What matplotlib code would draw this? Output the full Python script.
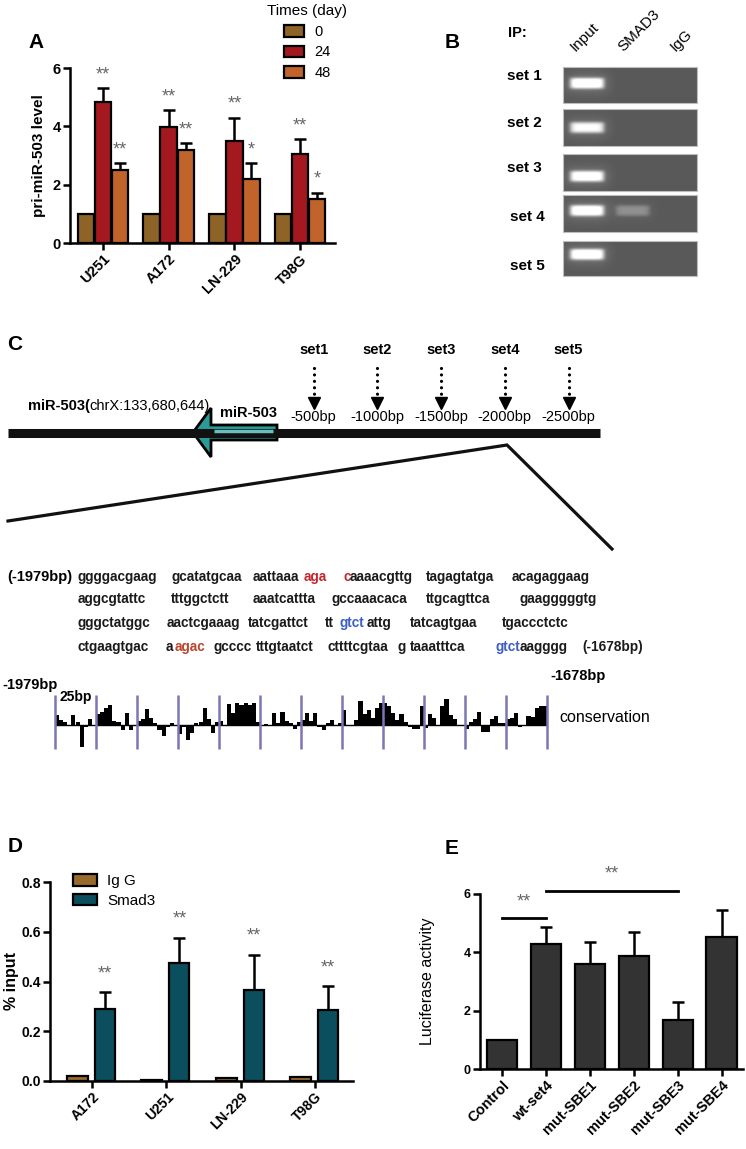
import numpy as np
import matplotlib.pyplot as plt
from matplotlib.patches import Polygon

plt.rcParams['font.family'] = ['Liberation Sans', 'DejaVu Sans']

W, H = 746, 1149

# ---- A: pri-miR-503 time course
cells_a = ['U251', 'A172', 'LN-229', 'T98G']
days = ['0', '24', '48']
pri_mir = [[1, 1, 1, 1],
           [4.85, 3.97, 3.5, 3.05],
           [2.5, 3.2, 2.2, 1.5]]
pri_err = [[0, 0, 0, 0],
           [0.47, 0.58, 0.8, 0.52],
           [0.25, 0.22, 0.55, 0.23]]
pri_sig = [['', '', '', ''],
           ['**', '**', '**', '**'],
           ['**', '**', '*', '*']]

# ---- B: ChIP gel
gel_sets = ['set 1', 'set 2', 'set 3', 'set 4', 'set 5']
gel_lanes = ['Input', 'SMAD3', 'IgG']
band = [[1.0, 0, 0],
        [0.85, 0, 0],
        [0.95, 0, 0],
        [1.0, 0.28, 0],
        [1.0, 0, 0]]

# ---- C: promoter map
set_names = ['set1', 'set2', 'set3', 'set4', 'set5']
set_bp = [-500, -1000, -1500, -2000, -2500]
seq_rows = [
    [('ggggacgaag', 'k'), ('gcatatgcaa', 'k'), ('aattaaa', 'k'), ('aga', 'r'), ('c', 'r'),
     ('aaaacgttg', 'k'), ('tagagtatga', 'k'), ('acagaggaag', 'k')],
    [('aggcgtattc', 'k'), ('tttggctctt', 'k'), ('aaatcattta', 'k'), ('gccaaacaca', 'k'),
     ('ttgcagttca', 'k'), ('gaagggggtg', 'k')],
    [('gggctatggc', 'k'), ('aactcgaaag', 'k'), ('tatcgattct', 'k'), ('tt', 'k'), ('gtct', 'b'),
     ('attg', 'k'), ('tatcagtgaa', 'k'), ('tgaccctctc', 'k')],
    [('ctgaagtgac', 'k'), ('a', 'k'), ('agac', 'o'), ('gcccc', 'k'), ('tttgtaatct', 'k'),
     ('cttttcgtaa', 'k'), ('g', 'k'), ('taaatttca', 'k'), ('gtct', 'b'), ('aagggg', 'k'),
     ('(-1678bp)', 'k')],
]
# conservation track, 10 values per 25bp block
cons = [30, 15, 8, 0, 30, 10, -65, -5, 17, -3,
        33, 40, 50, 60, 13, 10, -15, 35, -15, -3,
        13, 17, 47, 20, 5, -15, -33, -5, 5, -3,
        -28, -5, -45, -25, 5, 10, 50, 17, -23, 10,
        13, -3, 63, 35, 67, 60, 67, 60, 67, 10,
        -3, 3, -3, 35, 5, 40, 13, 5, -13, 10,
        15, 35, 13, 35, -5, -15, 5, 15, -3, 7,
        45, 0, 0, 15, 73, 33, 45, 20, 50, 65,
        67, 57, 35, 15, 33, 10, -5, -13, -13, 57,
        -10, 33, 20, 0, 57, 77, 30, 17, 0, 0,
        -13, 10, 17, 40, -20, -20, 17, 27, 5, 5,
        17, 20, 37, -5, -3, 27, 23, 50, 57, 57]

# ---- D: ChIP qPCR
cells_d = ['A172', 'U251', 'LN-229', 'T98G']
igg = [0.022, 0.005, 0.012, 0.015]
smad3 = [0.29, 0.475, 0.365, 0.287]
smad3_err = [0.066, 0.1, 0.142, 0.094]

# ---- E: luciferase
constructs = ['Control', 'wt-set4', 'mut-SBE1', 'mut-SBE2', 'mut-SBE3', 'mut-SBE4']
luc = [1.0, 4.3, 3.6, 3.86, 1.69, 4.54]
luc_err = [0, 0.56, 0.75, 0.84, 0.62, 0.92]


def box(l, t, r, b):
    return [l / W, 1 - b / H, (r - l) / W, (b - t) / H]


def style(ax):
    for s in ['top', 'right']:
        ax.spines[s].set_visible(False)
    for s in ['left', 'bottom']:
        ax.spines[s].set_linewidth(1.8)
    ax.tick_params(width=1.8, length=5, pad=1.5)
    ax.set_facecolor('none')


fig = plt.figure(figsize=(W / 100, H / 100), dpi=100)
cv = fig.add_axes([0, 0, 1, 1])
cv.axis('off')

# ---------------- A
axA = fig.add_axes(box(70, 68, 335, 243))
style(axA)
x = np.arange(len(cells_a))
cols_a = ['#8e6327', '#a3191f', '#c1642b']
for i in range(3):
    xs = x + (i - 1) * 0.26
    axA.bar(xs, pri_mir[i], 0.25, color=cols_a[i], edgecolor='black', lw=1.6,
            label=days[i], zorder=2)
    axA.errorbar(xs, pri_mir[i], yerr=[np.zeros(4), pri_err[i]], fmt='none',
                 ecolor='black', elinewidth=1.8, capsize=4.3, capthick=1.8, zorder=1)
    for j in range(4):
        if pri_sig[i][j]:
            axA.text(xs[j], pri_mir[i][j] + pri_err[i][j] + 0.45, pri_sig[i][j],
                     ha='center', va='center', color='#666666', fontsize=13)
axA.set_xlim(-0.5, 3.53)
axA.set_ylim(0, 6)
axA.set_yticks([0, 2, 4, 6])
axA.set_xticks(x)
axA.set_xticklabels(cells_a, rotation=45, ha='right', rotation_mode='anchor',
                    fontweight='bold', fontsize=10.5)
for t in axA.get_yticklabels():
    t.set_fontweight('bold')
    t.set_fontsize(10.5)
axA.set_ylabel('pri-miR-503 level', fontweight='bold', fontsize=11)
axA.yaxis.set_label_coords(-24 / 265, 0.5)
axA.legend(title='Times (day)', loc='upper center', bbox_to_anchor=(307 / W, 1 + 3 / H),
           bbox_transform=fig.transFigure, frameon=False, fontsize=10.5, title_fontsize=11,
           handlelength=1.4, handleheight=0.85, labelspacing=0.45, borderpad=0,
           handletextpad=0.7)
cv.text(28, 43, 'A', fontsize=15, fontweight='bold', va='center')

# ---------------- B
cv.text(445, 43, 'B', fontsize=15, fontweight='bold', va='center')
cv.text(508, 33, 'IP:', fontsize=10.5, fontweight='bold', va='center')
lane_frac = [0.18, 0.52, 0.86]
lane_label_x = [578, 625, 678]
for name, lx in zip(gel_lanes, lane_label_x):
    cv.text(lx, 54, name, rotation=45, ha='left', va='bottom', rotation_mode='anchor',
            fontsize=11)
gel_l, gel_r = 563, 697
gel_tops = [67, 109, 154, 195, 241]
gel_hs = [36, 37, 37, 37, 35]
band_cy = [0.45, 0.5, 0.6, 0.42, 0.38]
set_label_y = [76, 123, 168, 217, 266]
set_label_x = [507, 507, 507, 510, 510]
for r in range(len(gel_sets)):
    h, w = gel_hs[r], gel_r - gel_l
    yy, xx = np.mgrid[0:h, 0:w] + 0.5
    img = np.full((h, w), 0.35)
    for j in range(3):
        b = band[r][j]
        if b <= 0:
            continue
        cx, cy = lane_frac[j] * w, band_cy[r] * h
        core = np.exp(-((xx - cx) / 17) ** 8 - ((yy - cy) / 5.5) ** 4)
        glow = np.exp(-((xx - cx) / 22) ** 4 - ((yy - cy) / 10) ** 2)
        img = img + b * (0.65 * core + 0.12 * glow)
    img = np.clip(img, 0, 1)
    cv.imshow(img, cmap='gray', vmin=0, vmax=1, aspect='auto', interpolation='bilinear',
              extent=(gel_l, gel_r, gel_tops[r] + h, gel_tops[r]))
    cv.add_patch(plt.Rectangle((gel_l, gel_tops[r]), w, h, fill=False, ec='#bdbdbd', lw=0.8))
    cv.text(set_label_x[r], set_label_y[r], gel_sets[r], fontsize=11, fontweight='bold',
            va='center')

# ---------------- C
cv.text(7, 345, 'C', fontsize=15, fontweight='bold', va='center')
cv.plot([8, 600], [432.5, 432.5], color='#111111', lw=6.5, solid_capstyle='butt')
arrow = Polygon([(277, 425), (211, 425), (211, 408), (193, 432.5), (211, 457),
                 (211, 440), (277, 440)], closed=True, fc='#2b9b97', ec='black', lw=2)
cv.add_patch(arrow)
cv.plot([214, 273], [431, 431], color='#6bbfba', lw=2.5, solid_capstyle='butt')
t1 = cv.text(28, 406, 'miR-503(', fontsize=10.5, fontweight='bold', va='center')
cv.annotate('chrX:133,680,644)', xycoords=t1, xy=(1, 0.5), va='center', fontsize=10.5)
cv.text(220, 413, 'miR-503', fontsize=10.5, fontweight='bold', va='center')


def bp_to_px(bp):
    return 250 + 63.7 * (bp / -500)


for name, bp in zip(set_names, set_bp):
    px = bp_to_px(bp)
    cv.text(px, 350, name, ha='center', va='center', fontsize=10.5, fontweight='bold')
    cv.plot([px, px], [368, 399], color='black', lw=2.3, ls=(0, (0.01, 2.0)),
            dash_capstyle='round')
    cv.plot([px], [403], marker='v', color='black', markersize=9)
    cv.text(px, 417, f'{bp}bp', ha='center', va='center', fontsize=10.5)
cv.plot([8, 507, 612], [521, 445, 549], color='#111111', lw=2.3, solid_joinstyle='miter')

seq_colors = {'k': '#1a1a1a', 'r': '#c1272d', 'o': '#b9472b', 'b': '#3d5fc4'}
seq_x = [[78, 171, 253, 304, 343, 350, 426, 512],
         [78, 171, 253, 331, 426, 519],
         [78, 167, 248, 325, 340, 367, 410, 502],
         [78, 166, 175, 213, 256, 328, 398, 410, 496, 520, 582]]
seq_y = [577, 599, 623, 647]
cv.text(7, 577, '(-1979bp)', fontsize=10.5, fontweight='bold', va='center')
for row, xs_row, y in zip(seq_rows, seq_x, seq_y):
    for (txt, c), sx in zip(row, xs_row):
        cv.text(sx, y, txt, color=seq_colors[c], fontsize=9.8, fontweight='bold', va='center')

cv.text(2, 685, '-1979bp', fontsize=10.5, fontweight='bold', va='center')
cv.text(550, 676, '-1678bp', fontsize=10.5, fontweight='bold', va='center')

axC = fig.add_axes(box(55, 695, 547, 749))
axC.axis('off')
axC.bar(np.arange(len(cons)) + 0.5, cons, width=1.0, color='black', lw=0)
axC.axhline(0, color='black', lw=1.0)
axC.vlines(np.arange(0, len(cons) + 1, 10), -72, 90, color='#7c76b4', lw=1.8, clip_on=False)
axC.set_xlim(0, len(cons))
axC.set_ylim(-72, 90)
cv.text(60, 697, '25bp', fontsize=10, fontweight='bold', va='center')
cv.text(559, 718, 'conservation', fontsize=11.5, va='center')

# ---------------- D
axD = fig.add_axes(box(50, 882, 353, 1081))
style(axD)
xd = np.arange(len(cells_d))
axD.bar(xd - 0.195, igg, 0.28, color='#9a6a2c', edgecolor='black', lw=1.6, label='Ig G', zorder=2)
axD.bar(xd + 0.175, smad3, 0.27, color='#0b4e5e', edgecolor='black', lw=1.6, label='Smad3', zorder=2)
axD.errorbar(xd + 0.175, smad3, yerr=[np.zeros(4), smad3_err], fmt='none', ecolor='black',
             elinewidth=1.8, capsize=4.3, capthick=1.8, zorder=1)
for j in range(4):
    axD.text(xd[j] + 0.175, smad3[j] + smad3_err[j] + 0.075, '**', ha='center', va='center',
             color='#666666', fontsize=13)
axD.set_xlim(-0.565, 3.51)
axD.set_ylim(0, 0.8)
axD.set_yticks([0, 0.2, 0.4, 0.6, 0.8])
axD.set_yticklabels(['0.0', '0.2', '0.4', '0.6', '0.8'], fontweight='bold', fontsize=10)
axD.set_xticks(xd)
axD.set_xticklabels(cells_d, rotation=45, ha='right', rotation_mode='anchor',
                    fontweight='bold', fontsize=10)
axD.set_ylabel('% input', fontsize=11.5, fontweight='bold')
axD.yaxis.set_label_coords(-31 / 303, 0.5)
axD.legend(loc='upper left', bbox_to_anchor=(73 / W, 1 - 874 / H), bbox_transform=fig.transFigure,
           frameon=False, fontsize=11, handlelength=1.57, handleheight=0.8, labelspacing=0.37,
           borderpad=0, borderaxespad=0, handletextpad=0.65)
cv.text(8, 846, 'D', fontsize=15, fontweight='bold', va='center')

# ---------------- E
axE = fig.add_axes(box(480, 894, 743, 1069))
style(axE)
xe = np.arange(len(constructs))
axE.bar(xe, luc, 0.7, color='#333333', edgecolor='black', lw=1.6, zorder=2)
axE.errorbar(xe, luc, yerr=[np.zeros(len(luc)), luc_err], fmt='none', ecolor='black',
             elinewidth=1.8, capsize=4.3, capthick=1.8, zorder=1)
axE.plot([0, 1], [5.17, 5.17], color='black', lw=2, clip_on=False)
axE.text(0.5, 5.72, '**', ha='center', va='center', color='#666666', fontsize=13)
axE.plot([1, 4], [6.1, 6.1], color='black', lw=2, clip_on=False)
axE.text(2.5, 6.7, '**', ha='center', va='center', color='#666666', fontsize=13)
axE.set_xlim(-0.5, 5.48)
axE.set_ylim(0, 6)
axE.set_yticks([0, 2, 4, 6])
for t in axE.get_yticklabels():
    t.set_fontweight('bold')
    t.set_fontsize(9)
axE.set_xticks(xe)
axE.set_xticklabels(constructs, rotation=45, ha='right', rotation_mode='anchor',
                    fontweight='bold', fontsize=10.5)
axE.set_ylabel('Luciferase activity', fontsize=11.5)
axE.yaxis.set_label_coords(-45 / 263, 0.5)
cv.text(445, 848, 'E', fontsize=15, fontweight='bold', va='center')

cv.set_xlim(0, W)
cv.set_ylim(H, 0)
fig.savefig('out.png', dpi=100)
